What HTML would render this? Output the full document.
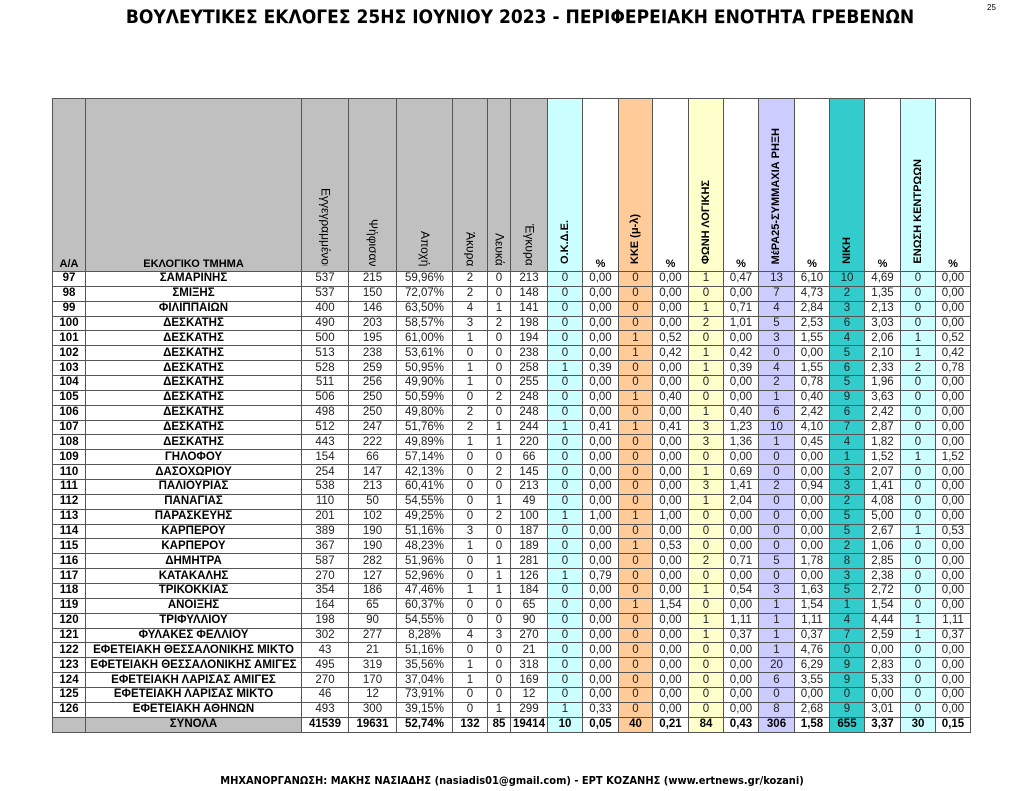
<!DOCTYPE html>
<html><head><meta charset="utf-8"><style>
body{margin:0;width:1024px;height:791px;background:#fff;position:relative;font-family:"Liberation Sans","Noto Sans CJK SC",sans-serif;overflow:hidden}
h1{position:absolute;top:6px;left:0;width:1040px;text-align:center;margin:0;font-size:19px;font-weight:bold;color:#000;font-family:"DejaVu Sans Condensed","Liberation Sans",sans-serif;letter-spacing:0}
.pg{position:absolute;top:3px;left:987px;font-size:8px}
.ft{position:absolute;top:774px;left:0;width:1024px;text-align:center;font-size:11px;font-weight:bold;font-family:"DejaVu Sans Condensed","Liberation Sans",sans-serif}
table{position:absolute;left:52px;top:98px;border-collapse:collapse;table-layout:fixed;width:918px}
td{border:1px solid #555;font-size:11.5px;text-align:center;padding:0;height:13.87px;line-height:13px;color:#222;overflow:hidden;white-space:nowrap}
td:nth-child(1),td:nth-child(2){font-weight:bold;color:#000}
td:nth-child(9),td:nth-child(19){background:#ccffff}
td:nth-child(11){background:#ffcc99}
td:nth-child(13){background:#ffffcc}
td:nth-child(15){background:#ccccff}
td:nth-child(17){background:#33cccc}
tr.h td{height:172px;vertical-align:bottom;font-weight:bold;color:#000;font-size:11px}
tr.h td.g{background:#c0c0c0}
tr.h td span.v{display:inline-block;writing-mode:vertical-rl;font-weight:normal;font-size:12px;max-height:78px;overflow:hidden;margin-bottom:1px;color:#000}
tr.h td span.r{display:inline-block;writing-mode:vertical-rl;transform:rotate(180deg);margin-bottom:3px}
tr.t td{font-weight:bold;color:#000}
tr.t td:nth-child(1),tr.t td:nth-child(2){background:#c0c0c0}
</style></head><body>
<h1>ΒΟΥΛΕΥΤΙΚΕΣ ΕΚΛΟΓΕΣ 25ΗΣ ΙΟΥΝΙΟΥ 2023 - ΠΕΡΙΦΕΡΕΙΑΚΗ ΕΝΟΤΗΤΑ ΓΡΕΒΕΝΩΝ</h1>
<div class="pg">25</div>
<table>
<colgroup><col style="width:33px"><col style="width:216px"><col style="width:47px"><col style="width:48px"><col style="width:56px"><col style="width:35px"><col style="width:23px"><col style="width:37px"><col style="width:35px"><col style="width:36px"><col style="width:34px"><col style="width:36px"><col style="width:35px"><col style="width:35px"><col style="width:36px"><col style="width:35px"><col style="width:35px"><col style="width:36px"><col style="width:35px"><col style="width:35px"></colgroup>
<tr class="h"><td class="g">A/A</td><td class="g">ΕΚΛΟΓΙΚΟ ΤΜΗΜΑ</td><td class="g"><span class="v">Εγγεγραμμένοι</span></td><td class="g"><span class="v">Ψήφισαν</span></td><td class="g"><span class="v">Αποχή</span></td><td class="g"><span class="v">Άκυρα</span></td><td class="g"><span class="v">Λευκά</span></td><td class="g"><span class="v">Έγκυρα</span></td><td><span class="r">Ο.Κ.Δ.Ε.</span></td><td>%</td><td><span class="r">ΚΚΕ (μ-λ)</span></td><td>%</td><td><span class="r">ΦΩΝΗ ΛΟΓΙΚΗΣ</span></td><td>%</td><td><span class="r">ΜέΡΑ25-ΣΥΜΜΑΧΙΑ ΡΗΞΗ</span></td><td>%</td><td><span class="r">ΝΙΚΗ</span></td><td>%</td><td><span class="r">ΕΝΩΣΗ ΚΕΝΤΡΩΩΝ</span></td><td>%</td></tr>
<tr><td>97</td><td>ΣΑΜΑΡΙΝΗΣ</td><td>537</td><td>215</td><td>59,96%</td><td>2</td><td>0</td><td>213</td><td>0</td><td>0,00</td><td>0</td><td>0,00</td><td>1</td><td>0,47</td><td>13</td><td>6,10</td><td>10</td><td>4,69</td><td>0</td><td>0,00</td></tr>
<tr><td>98</td><td>ΣΜΙΞΗΣ</td><td>537</td><td>150</td><td>72,07%</td><td>2</td><td>0</td><td>148</td><td>0</td><td>0,00</td><td>0</td><td>0,00</td><td>0</td><td>0,00</td><td>7</td><td>4,73</td><td>2</td><td>1,35</td><td>0</td><td>0,00</td></tr>
<tr><td>99</td><td>ΦΙΛΙΠΠΑΙΩΝ</td><td>400</td><td>146</td><td>63,50%</td><td>4</td><td>1</td><td>141</td><td>0</td><td>0,00</td><td>0</td><td>0,00</td><td>1</td><td>0,71</td><td>4</td><td>2,84</td><td>3</td><td>2,13</td><td>0</td><td>0,00</td></tr>
<tr><td>100</td><td>ΔΕΣΚΑΤΗΣ</td><td>490</td><td>203</td><td>58,57%</td><td>3</td><td>2</td><td>198</td><td>0</td><td>0,00</td><td>0</td><td>0,00</td><td>2</td><td>1,01</td><td>5</td><td>2,53</td><td>6</td><td>3,03</td><td>0</td><td>0,00</td></tr>
<tr><td>101</td><td>ΔΕΣΚΑΤΗΣ</td><td>500</td><td>195</td><td>61,00%</td><td>1</td><td>0</td><td>194</td><td>0</td><td>0,00</td><td>1</td><td>0,52</td><td>0</td><td>0,00</td><td>3</td><td>1,55</td><td>4</td><td>2,06</td><td>1</td><td>0,52</td></tr>
<tr><td>102</td><td>ΔΕΣΚΑΤΗΣ</td><td>513</td><td>238</td><td>53,61%</td><td>0</td><td>0</td><td>238</td><td>0</td><td>0,00</td><td>1</td><td>0,42</td><td>1</td><td>0,42</td><td>0</td><td>0,00</td><td>5</td><td>2,10</td><td>1</td><td>0,42</td></tr>
<tr><td>103</td><td>ΔΕΣΚΑΤΗΣ</td><td>528</td><td>259</td><td>50,95%</td><td>1</td><td>0</td><td>258</td><td>1</td><td>0,39</td><td>0</td><td>0,00</td><td>1</td><td>0,39</td><td>4</td><td>1,55</td><td>6</td><td>2,33</td><td>2</td><td>0,78</td></tr>
<tr><td>104</td><td>ΔΕΣΚΑΤΗΣ</td><td>511</td><td>256</td><td>49,90%</td><td>1</td><td>0</td><td>255</td><td>0</td><td>0,00</td><td>0</td><td>0,00</td><td>0</td><td>0,00</td><td>2</td><td>0,78</td><td>5</td><td>1,96</td><td>0</td><td>0,00</td></tr>
<tr><td>105</td><td>ΔΕΣΚΑΤΗΣ</td><td>506</td><td>250</td><td>50,59%</td><td>0</td><td>2</td><td>248</td><td>0</td><td>0,00</td><td>1</td><td>0,40</td><td>0</td><td>0,00</td><td>1</td><td>0,40</td><td>9</td><td>3,63</td><td>0</td><td>0,00</td></tr>
<tr><td>106</td><td>ΔΕΣΚΑΤΗΣ</td><td>498</td><td>250</td><td>49,80%</td><td>2</td><td>0</td><td>248</td><td>0</td><td>0,00</td><td>0</td><td>0,00</td><td>1</td><td>0,40</td><td>6</td><td>2,42</td><td>6</td><td>2,42</td><td>0</td><td>0,00</td></tr>
<tr><td>107</td><td>ΔΕΣΚΑΤΗΣ</td><td>512</td><td>247</td><td>51,76%</td><td>2</td><td>1</td><td>244</td><td>1</td><td>0,41</td><td>1</td><td>0,41</td><td>3</td><td>1,23</td><td>10</td><td>4,10</td><td>7</td><td>2,87</td><td>0</td><td>0,00</td></tr>
<tr><td>108</td><td>ΔΕΣΚΑΤΗΣ</td><td>443</td><td>222</td><td>49,89%</td><td>1</td><td>1</td><td>220</td><td>0</td><td>0,00</td><td>0</td><td>0,00</td><td>3</td><td>1,36</td><td>1</td><td>0,45</td><td>4</td><td>1,82</td><td>0</td><td>0,00</td></tr>
<tr><td>109</td><td>ΓΗΛΟΦΟΥ</td><td>154</td><td>66</td><td>57,14%</td><td>0</td><td>0</td><td>66</td><td>0</td><td>0,00</td><td>0</td><td>0,00</td><td>0</td><td>0,00</td><td>0</td><td>0,00</td><td>1</td><td>1,52</td><td>1</td><td>1,52</td></tr>
<tr><td>110</td><td>ΔΑΣΟΧΩΡΙΟΥ</td><td>254</td><td>147</td><td>42,13%</td><td>0</td><td>2</td><td>145</td><td>0</td><td>0,00</td><td>0</td><td>0,00</td><td>1</td><td>0,69</td><td>0</td><td>0,00</td><td>3</td><td>2,07</td><td>0</td><td>0,00</td></tr>
<tr><td>111</td><td>ΠΑΛΙΟΥΡΙΑΣ</td><td>538</td><td>213</td><td>60,41%</td><td>0</td><td>0</td><td>213</td><td>0</td><td>0,00</td><td>0</td><td>0,00</td><td>3</td><td>1,41</td><td>2</td><td>0,94</td><td>3</td><td>1,41</td><td>0</td><td>0,00</td></tr>
<tr><td>112</td><td>ΠΑΝΑΓΙΑΣ</td><td>110</td><td>50</td><td>54,55%</td><td>0</td><td>1</td><td>49</td><td>0</td><td>0,00</td><td>0</td><td>0,00</td><td>1</td><td>2,04</td><td>0</td><td>0,00</td><td>2</td><td>4,08</td><td>0</td><td>0,00</td></tr>
<tr><td>113</td><td>ΠΑΡΑΣΚΕΥΗΣ</td><td>201</td><td>102</td><td>49,25%</td><td>0</td><td>2</td><td>100</td><td>1</td><td>1,00</td><td>1</td><td>1,00</td><td>0</td><td>0,00</td><td>0</td><td>0,00</td><td>5</td><td>5,00</td><td>0</td><td>0,00</td></tr>
<tr><td>114</td><td>ΚΑΡΠΕΡΟΥ</td><td>389</td><td>190</td><td>51,16%</td><td>3</td><td>0</td><td>187</td><td>0</td><td>0,00</td><td>0</td><td>0,00</td><td>0</td><td>0,00</td><td>0</td><td>0,00</td><td>5</td><td>2,67</td><td>1</td><td>0,53</td></tr>
<tr><td>115</td><td>ΚΑΡΠΕΡΟΥ</td><td>367</td><td>190</td><td>48,23%</td><td>1</td><td>0</td><td>189</td><td>0</td><td>0,00</td><td>1</td><td>0,53</td><td>0</td><td>0,00</td><td>0</td><td>0,00</td><td>2</td><td>1,06</td><td>0</td><td>0,00</td></tr>
<tr><td>116</td><td>ΔΗΜΗΤΡΑ</td><td>587</td><td>282</td><td>51,96%</td><td>0</td><td>1</td><td>281</td><td>0</td><td>0,00</td><td>0</td><td>0,00</td><td>2</td><td>0,71</td><td>5</td><td>1,78</td><td>8</td><td>2,85</td><td>0</td><td>0,00</td></tr>
<tr><td>117</td><td>ΚΑΤΑΚΑΛΗΣ</td><td>270</td><td>127</td><td>52,96%</td><td>0</td><td>1</td><td>126</td><td>1</td><td>0,79</td><td>0</td><td>0,00</td><td>0</td><td>0,00</td><td>0</td><td>0,00</td><td>3</td><td>2,38</td><td>0</td><td>0,00</td></tr>
<tr><td>118</td><td>ΤΡΙΚΟΚΚΙΑΣ</td><td>354</td><td>186</td><td>47,46%</td><td>1</td><td>1</td><td>184</td><td>0</td><td>0,00</td><td>0</td><td>0,00</td><td>1</td><td>0,54</td><td>3</td><td>1,63</td><td>5</td><td>2,72</td><td>0</td><td>0,00</td></tr>
<tr><td>119</td><td>ΑΝΟΙΞΗΣ</td><td>164</td><td>65</td><td>60,37%</td><td>0</td><td>0</td><td>65</td><td>0</td><td>0,00</td><td>1</td><td>1,54</td><td>0</td><td>0,00</td><td>1</td><td>1,54</td><td>1</td><td>1,54</td><td>0</td><td>0,00</td></tr>
<tr><td>120</td><td>ΤΡΙΦΥΛΛΙΟΥ</td><td>198</td><td>90</td><td>54,55%</td><td>0</td><td>0</td><td>90</td><td>0</td><td>0,00</td><td>0</td><td>0,00</td><td>1</td><td>1,11</td><td>1</td><td>1,11</td><td>4</td><td>4,44</td><td>1</td><td>1,11</td></tr>
<tr><td>121</td><td>ΦΥΛΑΚΕΣ ΦΕΛΛΙΟΥ</td><td>302</td><td>277</td><td>8,28%</td><td>4</td><td>3</td><td>270</td><td>0</td><td>0,00</td><td>0</td><td>0,00</td><td>1</td><td>0,37</td><td>1</td><td>0,37</td><td>7</td><td>2,59</td><td>1</td><td>0,37</td></tr>
<tr><td>122</td><td>ΕΦΕΤΕΙΑΚΗ ΘΕΣΣΑΛΟΝΙΚΗΣ ΜΙΚΤΟ</td><td>43</td><td>21</td><td>51,16%</td><td>0</td><td>0</td><td>21</td><td>0</td><td>0,00</td><td>0</td><td>0,00</td><td>0</td><td>0,00</td><td>1</td><td>4,76</td><td>0</td><td>0,00</td><td>0</td><td>0,00</td></tr>
<tr><td>123</td><td>ΕΦΕΤΕΙΑΚΗ ΘΕΣΣΑΛΟΝΙΚΗΣ ΑΜΙΓΕΣ</td><td>495</td><td>319</td><td>35,56%</td><td>1</td><td>0</td><td>318</td><td>0</td><td>0,00</td><td>0</td><td>0,00</td><td>0</td><td>0,00</td><td>20</td><td>6,29</td><td>9</td><td>2,83</td><td>0</td><td>0,00</td></tr>
<tr><td>124</td><td>ΕΦΕΤΕΙΑΚΗ ΛΑΡΙΣΑΣ ΑΜΙΓΕΣ</td><td>270</td><td>170</td><td>37,04%</td><td>1</td><td>0</td><td>169</td><td>0</td><td>0,00</td><td>0</td><td>0,00</td><td>0</td><td>0,00</td><td>6</td><td>3,55</td><td>9</td><td>5,33</td><td>0</td><td>0,00</td></tr>
<tr><td>125</td><td>ΕΦΕΤΕΙΑΚΗ ΛΑΡΙΣΑΣ ΜΙΚΤΟ</td><td>46</td><td>12</td><td>73,91%</td><td>0</td><td>0</td><td>12</td><td>0</td><td>0,00</td><td>0</td><td>0,00</td><td>0</td><td>0,00</td><td>0</td><td>0,00</td><td>0</td><td>0,00</td><td>0</td><td>0,00</td></tr>
<tr><td>126</td><td>ΕΦΕΤΕΙΑΚΗ ΑΘΗΝΩΝ</td><td>493</td><td>300</td><td>39,15%</td><td>0</td><td>1</td><td>299</td><td>1</td><td>0,33</td><td>0</td><td>0,00</td><td>0</td><td>0,00</td><td>8</td><td>2,68</td><td>9</td><td>3,01</td><td>0</td><td>0,00</td></tr>
<tr class="t"><td></td><td>ΣΥΝΟΛΑ</td><td>41539</td><td>19631</td><td>52,74%</td><td>132</td><td>85</td><td>19414</td><td>10</td><td>0,05</td><td>40</td><td>0,21</td><td>84</td><td>0,43</td><td>306</td><td>1,58</td><td>655</td><td>3,37</td><td>30</td><td>0,15</td></tr>
</table>
<div class="ft">ΜΗΧΑΝΟΡΓΑΝΩΣΗ: ΜΑΚΗΣ ΝΑΣΙΑΔΗΣ (nasiadis01@gmail.com) - ΕΡΤ ΚΟΖΑΝΗΣ (www.ertnews.gr/kozani)</div>
</body></html>
